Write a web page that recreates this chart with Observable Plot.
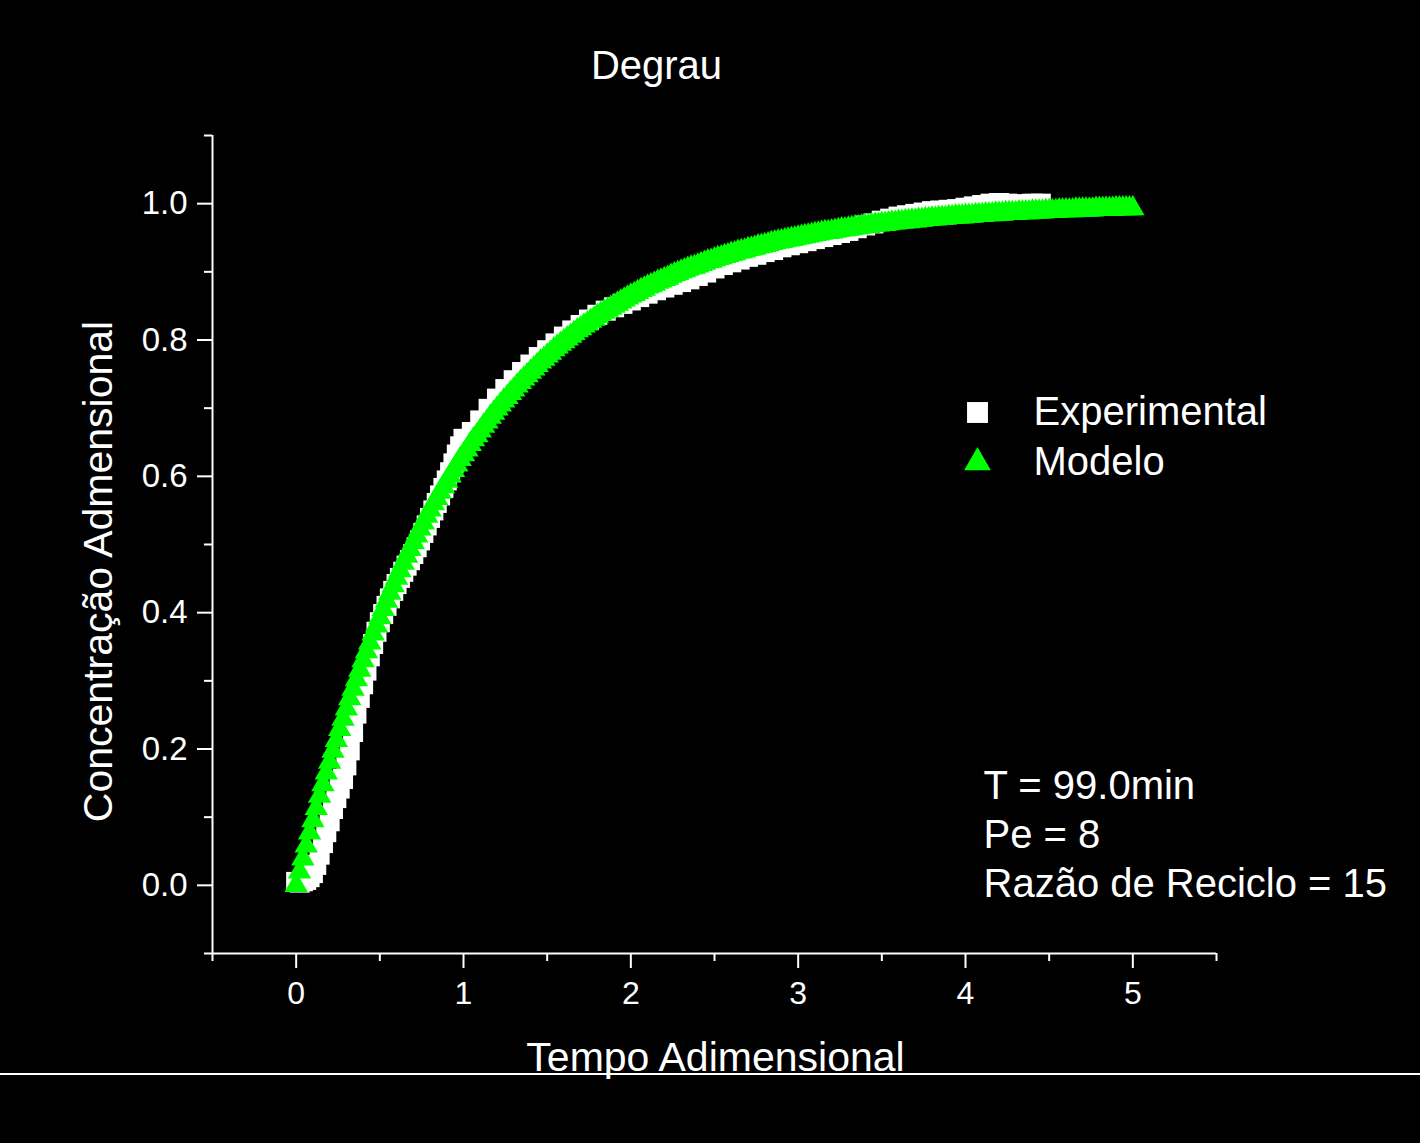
<!DOCTYPE html>
<html>
<head>
<meta charset="utf-8">
<script src="https://cdn.jsdelivr.net/npm/d3@7"></script>
<script src="https://cdn.jsdelivr.net/npm/@observablehq/plot@0.6"></script>
<style>
  html, body { margin: 0; padding: 0; background: #000; }
  #wrap { position: relative; width: 1420px; height: 1143px; overflow: hidden; background: #000; }
  #sep { position: absolute; left: 0; top: 1073px; width: 1420px; height: 2px; background: #fff; }
</style>
</head>
<body>
<div id="wrap"><div id="sep"></div></div>
<script>
// ---- data ----
const title = "Degrau";
const xLabel = "Tempo Adimensional";
const yLabel = "Concentração Admensional";
const seriesNames = ["Experimental", "Modelo"];
const notes = ["T = 99.0min", "Pe = 8", "Razão de Reciclo = 15"];

const xMajorTicks = [0, 1, 2, 3, 4, 5];
const xMinorTicks = [-0.5, 0.5, 1.5, 2.5, 3.5, 4.5, 5.5];
const yMajorTicks = [0, 0.2, 0.4, 0.6, 0.8, 1.0];
const yMinorTicks = [-0.1, 0.1, 0.3, 0.5, 0.7, 0.9, 1.1];

// Experimental (white squares)
const expT = [
  0.00,0.02,0.04,0.06,0.08,0.10,0.12,0.14,0.16,0.18,
  0.20,0.22,0.24,0.26,0.28,0.30,0.32,0.34,0.36,0.38,
  0.40,0.42,0.44,0.46,0.48,0.50,0.52,0.54,0.56,0.58,
  0.60,0.62,0.64,0.66,0.68,0.70,0.72,0.74,0.76,0.78,
  0.80,0.82,0.84,0.86,0.88,0.90,0.92,0.94,0.96,0.98,1.00,
  1.05,1.10,1.15,1.20,1.25,1.30,1.35,1.40,1.45,1.50,
  1.55,1.60,1.65,1.70,1.75,1.80,1.85,1.90,1.95,2.00,
  2.05,2.10,2.15,2.20,2.25,2.30,2.35,2.40,2.45,2.50,
  2.55,2.60,2.65,2.70,2.75,2.80,2.85,2.90,2.95,3.00,
  3.05,3.10,3.15,3.20,3.25,3.30,3.35,3.40,3.45,3.50,
  3.55,3.60,3.65,3.70,3.75,3.80,3.85,3.90,3.95,4.00,
  4.05,4.10,4.15,4.20,4.25,4.30,4.35,4.40,4.45
];
const expC = [
  0.005,0.004,0.006,0.008,0.012,0.018,0.030,0.045,0.062,0.078,
  0.094,0.112,0.128,0.142,0.156,0.176,0.198,0.225,0.252,0.275,
  0.295,0.315,0.336,0.354,0.372,0.386,0.398,0.410,0.421,0.432,
  0.442,0.451,0.460,0.469,0.477,0.486,0.496,0.506,0.517,0.528,
  0.539,0.550,0.561,0.572,0.583,0.594,0.606,0.619,0.632,0.644,0.655,
  0.665,0.682,0.699,0.714,0.728,0.741,0.753,0.764,0.775,0.785,
  0.795,0.805,0.814,0.822,0.830,0.837,0.843,0.848,0.853,0.858,
  0.863,0.868,0.873,0.877,0.881,0.885,0.889,0.894,0.899,0.905,
  0.910,0.914,0.918,0.922,0.925,0.929,0.932,0.936,0.939,0.942,
  0.945,0.948,0.951,0.954,0.957,0.960,0.964,0.968,0.971,0.975,
  0.978,0.981,0.983,0.985,0.987,0.989,0.990,0.991,0.992,0.994,
  0.996,0.998,1.000,1.001,1.000,0.999,0.999,1.000,1.000
];

// Modelo (green triangles)
const modelT = [
  0.00,0.02,0.04,0.06,0.08,0.10,0.12,0.14,0.16,0.18,
  0.20,0.22,0.24,0.26,0.28,0.30,0.32,0.34,0.36,0.38,
  0.40,0.42,0.44,0.46,0.48,0.50,0.52,0.54,0.56,0.58,
  0.60,0.62,0.64,0.66,0.68,0.70,0.72,0.74,0.76,0.78,
  0.80,0.82,0.84,0.86,0.88,0.90,0.92,0.94,0.96,0.98,
  1.00,1.02,1.04,1.06,1.08,1.10,1.12,1.14,1.16,1.18,
  1.20,1.22,1.24,1.26,1.28,1.30,1.32,1.34,1.36,1.38,
  1.40,1.42,1.44,1.46,1.48,1.50,1.52,1.54,1.56,1.58,
  1.60,1.62,1.64,1.66,1.68,1.70,1.72,1.74,1.76,1.78,
  1.80,1.82,1.84,1.86,1.88,1.90,1.92,1.94,1.96,1.98,
  2.00,2.02,2.04,2.06,2.08,2.10,2.12,2.14,2.16,2.18,
  2.20,2.22,2.24,2.26,2.28,2.30,2.32,2.34,2.36,2.38,
  2.40,2.42,2.44,2.46,2.48,2.50,2.52,2.54,2.56,2.58,
  2.60,2.62,2.64,2.66,2.68,2.70,2.72,2.74,2.76,2.78,
  2.80,2.82,2.84,2.86,2.88,2.90,2.92,2.94,2.96,2.98,
  3.00,3.02,3.04,3.06,3.08,3.10,3.12,3.14,3.16,3.18,
  3.20,3.22,3.24,3.26,3.28,3.30,3.32,3.34,3.36,3.38,
  3.40,3.42,3.44,3.46,3.48,3.50,3.52,3.54,3.56,3.58,
  3.60,3.62,3.64,3.66,3.68,3.70,3.72,3.74,3.76,3.78,
  3.80,3.82,3.84,3.86,3.88,3.90,3.92,3.94,3.96,3.98,
  4.00,4.02,4.04,4.06,4.08,4.10,4.12,4.14,4.16,4.18,
  4.20,4.22,4.24,4.26,4.28,4.30,4.32,4.34,4.36,4.38,
  4.40,4.42,4.44,4.46,4.48,4.50,4.52,4.54,4.56,4.58,
  4.60,4.62,4.64,4.66,4.68,4.70,4.72,4.74,4.76,4.78,
  4.80,4.82,4.84,4.86,4.88,4.90,4.92,4.94,4.96,4.98,
  5.00
];
const modelC = [
  0.000,0.020,0.039,0.058,0.077,0.095,0.113,0.131,0.148,0.165,
  0.181,0.197,0.213,0.229,0.244,0.259,0.274,0.288,0.302,0.316,
  0.330,0.343,0.356,0.369,0.381,0.393,0.405,0.417,0.429,0.440,
  0.451,0.462,0.473,0.483,0.493,0.503,0.513,0.523,0.532,0.542,
  0.551,0.560,0.568,0.577,0.585,0.593,0.601,0.609,0.617,0.625,
  0.632,0.639,0.647,0.654,0.660,0.667,0.674,0.680,0.687,0.693,
  0.699,0.705,0.711,0.716,0.722,0.727,0.733,0.738,0.743,0.748,
  0.753,0.758,0.763,0.768,0.772,0.777,0.781,0.786,0.790,0.794,
  0.798,0.802,0.806,0.810,0.814,0.817,0.821,0.824,0.828,0.831,
  0.835,0.838,0.841,0.844,0.847,0.850,0.853,0.856,0.859,0.862,
  0.865,0.867,0.870,0.873,0.875,0.878,0.880,0.882,0.885,0.887,
  0.889,0.891,0.894,0.896,0.898,0.900,0.902,0.904,0.906,0.907,
  0.909,0.911,0.913,0.915,0.916,0.918,0.920,0.921,0.923,0.924,
  0.926,0.927,0.929,0.930,0.931,0.933,0.934,0.935,0.937,0.938,
  0.939,0.940,0.942,0.943,0.944,0.945,0.946,0.947,0.948,0.949,
  0.950,0.951,0.952,0.953,0.954,0.955,0.956,0.957,0.958,0.958,
  0.959,0.960,0.961,0.962,0.962,0.963,0.964,0.965,0.965,0.966,
  0.967,0.967,0.968,0.969,0.969,0.970,0.970,0.971,0.972,0.972,
  0.973,0.973,0.974,0.974,0.975,0.975,0.976,0.976,0.977,0.977,
  0.978,0.978,0.979,0.979,0.979,0.980,0.980,0.981,0.981,0.981,
  0.982,0.982,0.982,0.983,0.983,0.983,0.984,0.984,0.984,0.985,
  0.985,0.985,0.986,0.986,0.986,0.986,0.987,0.987,0.987,0.987,
  0.988,0.988,0.988,0.988,0.989,0.989,0.989,0.989,0.990,0.990,
  0.990,0.990,0.990,0.991,0.991,0.991,0.991,0.991,0.991,0.992,
  0.992,0.992,0.992,0.992,0.992,0.993,0.993,0.993,0.993,0.993,
  0.993
];

// ---- build ----
const expData = expT.map((t, i) => ({t, c: expC[i]}));
const modelData = modelT.map((t, i) => ({t, c: modelC[i]}));

const FONT = "'Liberation Sans', Arial, Helvetica, sans-serif";
const WHITE = "#ffffff";
const GREEN = "#00ff00";

const chart = Plot.plot({
  width: 1420,
  height: 1143,
  marginLeft: 212,
  marginRight: 204,
  marginTop: 135,
  marginBottom: 190,
  style: {background: "#000", color: WHITE, fontFamily: FONT, overflow: "visible"},
  x: {domain: [-0.5, 5.5]},
  y: {domain: [-0.1, 1.1]},
  marks: [
    // data
    Plot.dot(expData, {x: "t", y: "c", symbol: "square", r: 11.3, fill: WHITE}),
    Plot.dot(modelData, {x: "t", y: "c", symbol: "triangle", r: 8.7, fill: GREEN}),
    // axis lines
    Plot.ruleX([-0.5], {stroke: WHITE, strokeWidth: 2}),
    Plot.ruleY([-0.1], {stroke: WHITE, strokeWidth: 2}),
    // x axis
    Plot.axisX(xMajorTicks, {tickSize: 15, tickPadding: 13, strokeWidth: 2, stroke: WHITE, fill: WHITE,
      fontSize: 32, label: null, tickFormat: d => String(d)}),
    Plot.axisX(xMinorTicks, {tickSize: 8, strokeWidth: 2, stroke: WHITE, text: null, label: null}),
    // y axis
    Plot.axisY(yMajorTicks, {tickSize: 15, tickPadding: 10, strokeWidth: 2, stroke: WHITE, fill: WHITE,
      fontSize: 33, label: null, tickFormat: d => d.toFixed(1)}),
    Plot.axisY(yMinorTicks, {tickSize: 8, strokeWidth: 2, stroke: WHITE, text: null, label: null}),
    // title & axis labels
    Plot.text([title], {frameAnchor: "top-left", dx: 444, dy: -69, fontSize: 40, fill: WHITE, textAnchor: "middle", lineAnchor: "middle"}),
    Plot.text([xLabel], {frameAnchor: "bottom-left", dx: 503, dy: 104, fontSize: 41, fill: WHITE, textAnchor: "middle", lineAnchor: "middle"}),
    Plot.text([yLabel], {frameAnchor: "top-left", dx: -114, dy: 436, rotate: -90, fontSize: 41, fill: WHITE, textAnchor: "middle", lineAnchor: "middle"}),
    // legend
    Plot.dot([0], {frameAnchor: "top-left", dx: 765, dy: 277, symbol: "square", r: 11.8, fill: WHITE}),
    Plot.dot([0], {frameAnchor: "top-left", dx: 765, dy: 327, symbol: "triangle", r: 9.9, fill: GREEN}),
    Plot.text([seriesNames[0]], {frameAnchor: "top-left", dx: 821, dy: 277, fontSize: 40, fill: WHITE, textAnchor: "start", lineAnchor: "middle"}),
    Plot.text([seriesNames[1]], {frameAnchor: "top-left", dx: 821, dy: 327, fontSize: 40, fill: WHITE, textAnchor: "start", lineAnchor: "middle"}),
    // annotation
    Plot.text([notes[0]], {frameAnchor: "top-left", dx: 771, dy: 651, fontSize: 40, fill: WHITE, textAnchor: "start", lineAnchor: "middle"}),
    Plot.text([notes[1]], {frameAnchor: "top-left", dx: 771, dy: 700, fontSize: 40, fill: WHITE, textAnchor: "start", lineAnchor: "middle"}),
    Plot.text([notes[2]], {frameAnchor: "top-left", dx: 771, dy: 749, fontSize: 40, fill: WHITE, textAnchor: "start", lineAnchor: "middle"})
  ]
});
document.getElementById("wrap").prepend(chart);
</script>
</body>
</html>
